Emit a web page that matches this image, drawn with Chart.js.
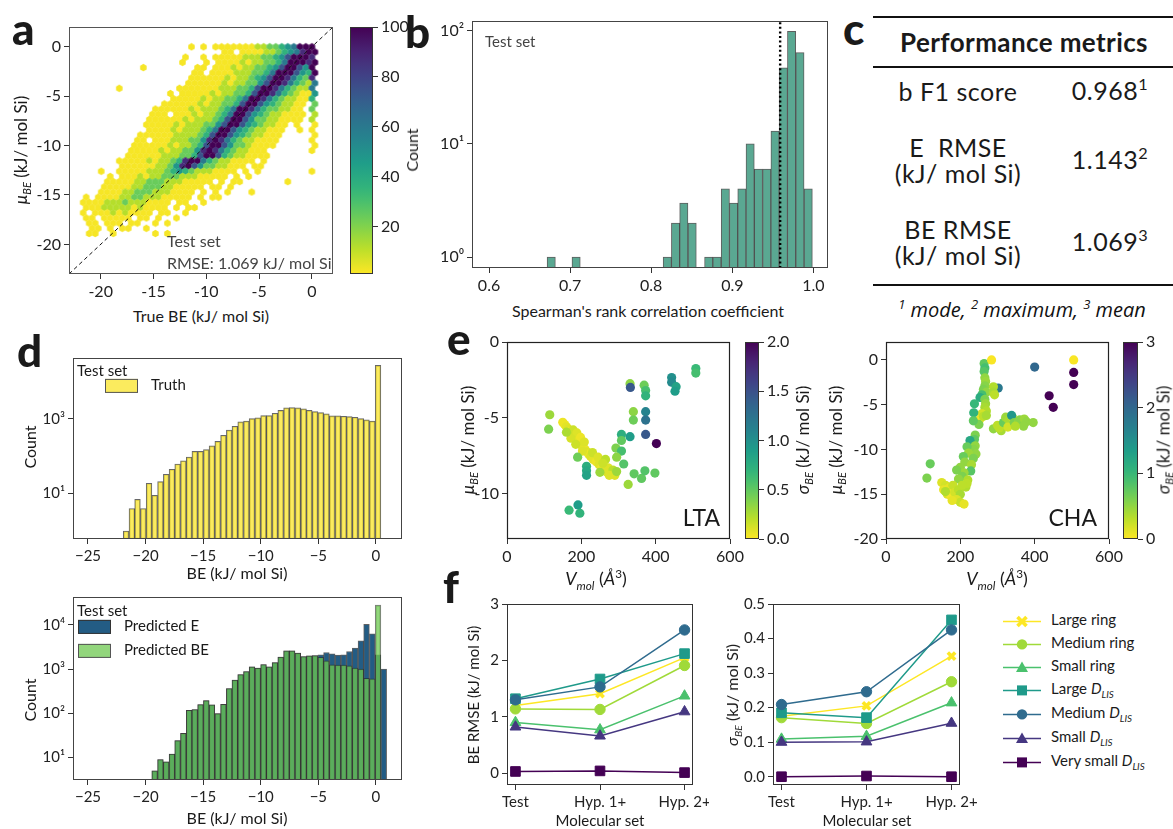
<!DOCTYPE html>
<html>
<head>
<meta charset="utf-8">
<title>BE model performance</title>
<script src="https://cdn.jsdelivr.net/npm/chart.js@4.4.1/dist/chart.umd.min.js"></script>
<style>
  html, body { margin: 0; padding: 0; background: #fff; }
  body { position: relative; width: 1173px; height: 829px; overflow: hidden;
         font-family: Lato, "Noto Sans", sans-serif; color: #1a1a1a; }
  canvas { position: absolute; }
  .lbl { position: absolute; white-space: nowrap; line-height: 1; }
  .rule { position: absolute; height: 1.5px; background: #111; }
  sub, sup { font-size: 65%; line-height: 0; }
</style>
</head>
<body>
<script>
// ---------- a: hexbin of predicted mean vs true BE ----------
// one row per hex row from y = 0 downwards, [first column, levels], '.' = empty cell
const hexRows = [
  [19, '1.1.11111112233456999'],
  [24, '11.1111223456899'],
  [18, '1..1.11111222334579998'],
  [17, '1...1.11112122334699989'],
  [11, '1........11.11121223345799759'],
  [19, '11.111122233469997549'],
  [19, '111111212234579986438'],
  [18, '1111112122335799864326'],
  [7,  '1.........11111112223347998643226'],
  [15, '1.11111212233479986432115'],
  [16, '111112122334699864322114'],
  [14, '111111212233479975432211.3'],
  [13, '1111112122234699864332211.3'],
  [12, '111.1112122346997543221111.2'],
  [12, '11111121222347997533221111.2'],
  [11, '111112122233579975432211.1..1'],
  [12, '11112122234699754322111..1.1'],
  [10, '111111222234799754322111.....1'],
  [10, '11.111222335898643221111.....1'],
  [9,  '111111212234799753321111......1'],
  [9,  '11111212233589864322111.......1'],
  [8,  '111111222334799743221111'],
  [7,  '11111212234899643221111.1'],
  [7,  '111111223589753322111.11'],
  [4,  '1..11111222345432221111.1.1........1'],
  [5,  '1.111212233322211111.1.1'],
  [5,  '111112233322211111.1.11.......1'],
  [4,  '11111223332211111.11.1'],
  [4,  '1111223332221111.1.1.1...1'],
  [1,  '1.1111223322211111.1.11'],
  [1,  '111122232221111.11..1'],
  [1,  '11122222121111.1.11'],
  [1,  '1.1112121111.11..1'],
  [1,  '11.11111.11.1..1'],
  [2,  '11.111.11..1.1'],
  [2,  '11.1.11..1'],
  [2,  '11..1......1.1']
];
const hexLevelCounts = [0, 2, 12, 24, 36, 48, 60, 74, 88, 100];
const hexX0 = -22.23, hexDx = 0.57, hexDy = 0.525;   // hex lattice in data units
const beTicks = [-20, -15, -10, -5, 0];
const countTicks = [20, 40, 60, 80, 100];

// ---------- b: Spearman rank correlation histogram ----------
const rhoBins = [0.6767, 0.7074, 0.8198, 0.8300, 0.8402, 0.8505, 0.8709, 0.8811, 0.8914, 0.9016,
                 0.9118, 0.9220, 0.9322, 0.9425, 0.9527, 0.9629, 0.9731, 0.9834, 0.9936];
const rhoCounts = [1, 1, 1, 2, 3, 2, 1, 1, 4, 3, 4, 10, 6, 6, 13, 47, 99, 64, 4];
const rhoMode = 0.959;
const rhoTicks = [0.6, 0.7, 0.8, 0.9, 1.0];

// ---------- d: BE histograms ----------
const beBins = [-21.69, -21.19, -20.70, -20.20, -19.70, -19.21, -18.71, -18.21, -17.71, -17.22,
                -16.72, -16.22, -15.73, -15.23, -14.73, -14.24, -13.74, -13.24, -12.74, -12.25,
                -11.75, -11.25, -10.76, -10.26, -9.76, -9.27, -8.77, -8.27, -7.77, -7.28,
                -6.78, -6.28, -5.79, -5.29, -4.79, -4.30, -3.80, -3.30, -2.80, -2.31,
                -1.81, -1.31, -0.82, -0.32, 0.18, 0.68];
const truthCounts = [1, 4, 7, 4, 19, 9, 21, 33, 45, 62, 76, 95, 135, 135, 150, 190, 250, 365, 500, 635,
                     830, 870, 1020, 1065, 1230, 1230, 1420, 1700, 1970, 2000, 1970, 1850, 1700, 1570, 1480,
                     1360, 1200, 1200, 1180, 1150, 1110, 1020, 940, 870, 27000];
const predECounts = [null, null, null, null, null, 5, 9, 8, 12, 24, 35, 117, 122, 158, 193,
                     155, 98, 160, 364, 560, 755, 880, 1120, 1050, 1270, 1130, 1400, 1860, 2580, 2580,
                     2290, 1920, 2000, 2020, 2100, 2370, 2220, 2060, 2100, 2500, 2970, 4350, 10300, 6250,
                     2100, 1000];
const predBeCounts = [null, null, null, null, null, 5, 9, 8, 12, 24, 35, 117, 122, 158, 193,
                      155, 98, 160, 364, 560, 755, 880, 1120, 1050, 1270, 1130, 1400, 1860, 2580, 2580,
                      2290, 1920, 2000, 2020, 1830, 1535, 1250, 1230, 1230, 1180, 1050, 1000, 620, 600,
                      28000, null];
const histTicks = [-25, -20, -15, -10, -5, 0];

// ---------- e: mean vs molecular volume, coloured by sigma ----------
const ltaV = [115, 112, 150, 155, 160, 165, 170, 175, 180, 185, 190, 195, 200, 205, 210, 215, 220, 225, 232, 240,
              248, 255, 262, 270, 280, 290, 178, 188, 198, 208, 172, 185, 203, 230, 245, 265, 272, 285, 160, 258,
              275, 250, 190, 214, 214, 214, 167, 191, 196, 331, 332, 369, 373, 373, 340, 340, 373, 373, 373, 402,
              443, 443, 455, 452, 508, 508, 308, 331, 308, 293, 308, 295, 314, 342, 362, 371, 398, 326, 295];
const ltaMu = [-4.8, -5.75, -5.3, -5.45, -5.6, -5.75, -5.9, -6.05, -6.2, -6.3, -6.45, -6.6, -6.8, -6.95, -7.1, -7.25,
               -7.4, -7.55, -7.75, -7.9, -8.1, -8.3, -8.5, -8.6, -8.75, -8.8, -5.8, -6.0, -6.3, -6.6, -6.35, -6.75,
               -7.2, -7.3, -7.6, -7.75, -8.3, -8.45, -5.95, -8.0, -8.8, -8.6, -7.6, -8.2, -8.5, -8.8, -11.1, -10.75,
               -11.3, -2.75, -3.0, -2.85, -3.2, -3.55, -4.6, -5.15, -4.6, -5.15, -6.1, -6.7, -2.35, -2.65, -2.95,
               -3.25, -1.75, -2.05, -6.1, -6.25, -6.5, -7.0, -7.2, -7.6, -8.05, -8.7, -9.0, -8.5, -8.65, -9.4, -8.55];
const ltaSigma = [0.3, 0.4, 0.05, 0.05, 0.08, 0.1, 0.05, 0.05, 0.1, 0.05, 0.05, 0.1, 0.05, 0.08, 0.05, 0.1, 0.05,
                  0.1, 0.08, 0.05, 0.1, 0.05, 0.08, 0.1, 0.05, 0.1, 0.15, 0.1, 0.05, 0.1, 0.12, 0.15, 0.1, 0.15,
                  0.1, 0.2, 0.1, 0.2, 0.25, 0.15, 0.1, 0.3, 0.45, 0.75, 0.8, 0.85, 0.65, 0.9, 0.7, 0.35, 1.45,
                  0.45, 0.6, 0.7, 0.35, 0.45, 1.1, 1.25, 1.45, 2.0, 1.0, 1.05, 0.85, 0.9, 0.65, 0.6, 0.75, 0.9,
                  0.5, 0.4, 0.6, 0.35, 0.55, 0.5, 0.5, 0.55, 0.5, 0.3, 0.3];
const chaV = [264, 266, 264, 266, 268, 266, 262, 270, 258, 253, 266, 268, 266, 270, 258, 253, 250, 238, 236, 235,
              262, 270, 284, 302, 289, 289, 292, 289, 300, 310, 305, 316, 322, 330, 328, 340, 338, 345, 356, 360,
              372, 378, 370, 396, 348, 400, 505, 505, 505, 439, 450, 240, 238, 226, 240, 236, 242, 218, 222, 235,
              208, 212, 230, 228, 200, 210, 190, 205, 220, 195, 119, 110, 150, 160, 170, 180, 155, 165, 175, 185,
              195, 200, 190, 200, 210, 178, 215, 218, 205, 160];
const chaMu = [-0.4, -0.9, -1.3, -2.0, -2.4, -2.9, -3.3, -3.6, -3.9, -4.2, -4.4, -4.9, -5.3, -5.7, -6.0, -6.6, -7.2,
               -4.9, -5.9, -6.8, -6.3, -6.2, 0, -3.15, -3.0, -3.6, -3.9, -7.7, -7.3, -7.9, -7.6, -7.0, -6.4, -6.7,
               -7.5, -6.4, -6.2, -7.0, -7.0, -6.7, -6.6, -6.9, -7.4, -7.0, -7.4, -0.8, 0, -1.4, -2.75, -4.0, -5.3,
               -8.4, -8.9, -9.0, -9.6, -10.0, -10.5, -9.7, -10.4, -11.0, -10.8, -11.4, -11.7, -12.4, -12.0, -12.6,
               -12.3, -13.0, -13.4, -13.3, -11.6, -13.2, -13.7, -14.0, -14.3, -14.0, -14.5, -15.0, -15.2, -14.8,
               -14.5, -15.0, -15.6, -15.9, -16.1, -15.7, -14.2, -13.8, -14.0, -14.7];
const chaSigma = [0.75, 0.9, 0.8, 0.5, 0.45, 0.55, 0.6, 0.5, 0.9, 1.15, 0.6, 0.45, 0.4, 0.35, 0.2, 0.05, 0.6, 1.0,
                  1.05, 0.75, 0.3, 0.4, 0.02, 1.8, 0.35, 0.4, 0.3, 0.5, 0.3, 0.4, 0.3, 0.7, 0.45, 0.4, 0.2, 0.3,
                  1.4, 0.6, 0.5, 0.55, 0.45, 0.5, 0.5, 0.5, 0.35, 2.0, 0.02, 3.0, 3.0, 3.0, 3.0, 0.6, 0.75, 1.2,
                  0.5, 0.55, 0.5, 0.7, 0.45, 0.6, 0.7, 0.5, 0.4, 0.8, 0.5, 0.45, 0.6, 0.6, 0.35, 0.5, 0.7, 0.6,
                  0.15, 0.2, 0.1, 0.25, 0.1, 0.15, 0.05, 0.2, 0.3, 0.4, 0.15, 0.25, 0.1, 0.1, 0.35, 0.3, 0.3, 0.35];

// ---------- f: errors per molecular set ----------
const setNames = ['Test', 'Hyp. 1+', 'Hyp. 2+'];
const groupNames = ['Large ring', 'Medium ring', 'Small ring', 'Large <i>D</i><sub><i>LIS</i></sub>',
                    'Medium <i>D</i><sub><i>LIS</i></sub>', 'Small <i>D</i><sub><i>LIS</i></sub>',
                    'Very small <i>D</i><sub><i>LIS</i></sub>'];
const rmseByGroup = [[1.20, 1.41, 2.05], [1.14, 1.13, 1.91], [0.90, 0.77, 1.37], [1.32, 1.67, 2.12],
                     [1.30, 1.53, 2.54], [0.82, 0.66, 1.09], [0.03, 0.04, 0.01]];
const sigmaByGroup = [[0.175, 0.205, 0.349], [0.171, 0.154, 0.275], [0.109, 0.117, 0.214], [0.185, 0.171, 0.454],
                      [0.209, 0.246, 0.425], [0.100, 0.101, 0.155], [0.0, 0.002, 0.0]];
const groupColors = ['#fde725', '#a0da39', '#4ac16d', '#1f9a8a', '#2f6b8e', '#453781', '#440154'];
const groupMarkers = ['x', 'circle', 'triangle', 'rect', 'circle', 'triangle', 'rect'];

// ---------- helpers ----------
const VIR = ['#440154', '#482878', '#3e4989', '#31688e', '#26828e', '#1f9e89', '#35b779', '#6ece58', '#b5de2b', '#fde725']
  .map(h => { const n = parseInt(h.slice(1), 16); return [n >> 16, (n >> 8) & 255, n & 255]; });
function viridisR(t) {   // 0 -> yellow, 1 -> dark purple
  t = Math.min(1, Math.max(0, t));
  const p = (1 - t) * (VIR.length - 1);
  const i = Math.min(VIR.length - 2, Math.floor(p)), f = p - i;
  const c = VIR[i].map((v, k) => Math.round(v + (VIR[i + 1][k] - v) * f));
  return `rgb(${c[0]},${c[1]},${c[2]})`;
}

function label(html, x, y, css, anchor) {
  const d = document.createElement('div');
  d.className = 'lbl';
  d.innerHTML = html;
  d.style.cssText += css || '';
  d.style.left = x + 'px';
  d.style.top = y + 'px';
  const tr = { c: 'translate(-50%,-50%)', l: 'translate(0,-50%)', r: 'translate(-100%,-50%)',
               v: 'translate(-50%,-50%) rotate(-90deg)' };
  d.style.transform = tr[anchor || 'c'];
  document.body.appendChild(d);
  return d;
}

Chart.defaults.font.family = 'Lato, "Noto Sans", sans-serif';
Chart.defaults.color = '#222';

Chart.register({
  id: 'frame',
  afterDatasetsDraw(chart, args, o) {
    if (!o || !o.show) return;
    const a = chart.chartArea, ctx = chart.ctx;
    ctx.save();
    ctx.strokeStyle = o.color;
    ctx.lineWidth = o.width;
    ctx.strokeRect(Math.round(a.left) + 0.5, Math.round(a.top) + 0.5,
                   Math.round(a.right - a.left) - 1, Math.round(a.bottom - a.top) - 1);
    ctx.restore();
  }
}, {
  id: 'cbar',
  beforeDatasetsDraw(chart, args, o) {
    if (!o || !o.show) return;
    const a = chart.chartArea, ctx = chart.ctx;
    const g = ctx.createLinearGradient(0, a.bottom, 0, a.top);
    for (let k = 0; k <= 20; k++) g.addColorStop(k / 20, viridisR(k / 20));
    ctx.fillStyle = g;
    ctx.fillRect(a.left, a.top, a.right - a.left, a.bottom - a.top);
  }
});

function axis(type, min, max, ticks, fmt, size, extra) {
  return Object.assign({
    type, min, max, bounds: 'data',
    afterBuildTicks: s => { s.ticks = ticks.map(v => ({ value: v })); },
    ticks: { callback: fmt, autoSkip: false, maxRotation: 0, minRotation: 0, padding: 3,
             color: '#222', font: { size } },
    grid: { display: true, drawOnChartArea: false, drawTicks: true, tickLength: 5,
            tickColor: '#333', tickWidth: 1, offset: false },
    border: { display: false }
  }, extra || {});
}

// area = plot box [left, top, right, bottom] on the page, m = room for ticks [left, top, right, bottom]
function makeChart(area, m, config) {
  const [l, t, r, b] = area;
  const w = r - l + m[0] + m[2], h = b - t + m[1] + m[3];
  const cv = document.createElement('canvas');
  cv.width = w; cv.height = h;
  Object.assign(cv.style, { left: (l - m[0]) + 'px', top: (t - m[1]) + 'px', width: w + 'px', height: h + 'px' });
  document.body.appendChild(cv);
  const sc = config.options.scales;
  const yRight = sc.y.position === 'right';
  const xHidden = sc.x.display === false;
  sc.x.afterFit = s => { s.height = xHidden ? 0 : m[3]; s.paddingLeft = 0; s.paddingRight = 0; };
  sc.y.afterFit = s => { s.width = yRight ? m[2] : m[0]; s.paddingTop = 0; s.paddingBottom = 0; };
  config.options.layout = { padding: { left: yRight ? m[0] : 0, right: yRight ? 0 : m[2], top: m[1],
                                       bottom: xHidden ? m[3] : 0 } };
  Object.assign(config.options, { responsive: false, animation: false, devicePixelRatio: 1, events: [] });
  config.options.plugins = Object.assign({ legend: { display: false }, tooltip: { enabled: false } },
                                         config.options.plugins || {});
  return new Chart(cv, config);
}

const SUP = { '0': '⁰', '1': '¹', '2': '²', '3': '³', '4': '⁴' };
const pow10 = v => '10' + SUP[Math.round(Math.log10(v))];
const minus = v => (v < 0 ? '−' + Math.abs(v) : String(v));
const colorbar = (area, m, max, ticks, fmt) => makeChart(area, m, {
  type: 'scatter', data: { datasets: [] },
  options: {
    scales: { x: { display: false, min: 0, max: 1 },
              y: axis('linear', max === 100 ? 1 : 0, max, ticks, fmt, 16, { position: 'right' }) },
    plugins: { cbar: { show: true }, frame: { show: true, color: '#333', width: 1 } }
  }
});

// ---------- panel a ----------
const hexImgs = hexLevelCounts.map(n => {
  const c = document.createElement('canvas');
  c.width = 9; c.height = 9;
  const g = c.getContext('2d');
  g.fillStyle = viridisR((n - 1) / 99);
  g.beginPath();
  for (let k = 0; k < 6; k++) {
    const ang = -Math.PI / 2 + k * Math.PI / 3;
    g.lineTo(4.5 + 3.75 * Math.cos(ang), 4.5 + 3.75 * Math.sin(ang));
  }
  g.closePath();
  g.fill();
  return c;
});
const hexCells = [];
hexRows.forEach(([start, s], j) => {
  for (let k = 0; k < s.length; k++) {
    if (s[k] === '.') continue;
    const i = start + k, lvl = +s[k];
    hexCells.push({ x: hexX0 + i * hexDx + (j % 2 ? hexDx / 2 : 0), y: -j * hexDy, lvl });
  }
});

makeChart([69, 27, 333, 274], [52, 10, 10, 30], {
  type: 'scatter',
  data: { datasets: [
    { data: [{ x: -23, y: -23 }, { x: 2, y: 2 }], showLine: true, borderColor: '#111', borderWidth: 1,
      borderDash: [4, 3], pointRadius: 0 },
    { data: hexCells, pointRadius: 3.5, pointStyle: c => (c.raw ? hexImgs[c.raw.lvl] : 'circle') }
  ] },
  options: {
    scales: { x: axis('linear', -23, 2, beTicks, v => String(v), 16),
              y: axis('linear', -23, 2, beTicks, v => String(v), 16) },
    plugins: { frame: { show: true, color: '#555', width: 1 } }
  }
});
colorbar([350, 27, 373, 274], [0, 10, 36, 10], 100, countTicks, v => String(v));

label('<i>μ</i><sub><i>BE</i></sub> (kJ/ mol Si)', 20, 150, 'font-size:17px;', 'v');
label('True BE (kJ/ mol Si)', 201, 316, 'font-size:16px;');
label('Test set', 167, 241, 'font-size:16px;color:#444;', 'l');
label('RMSE: 1.069 kJ/ mol Si', 167, 263, 'font-size:16px;color:#444;', 'l');

// ---------- panel b ----------
makeChart([472, 21, 828, 268], [46, 10, 12, 32], {
  type: 'bar',
  data: { datasets: [
    { type: 'line', data: [{ x: rhoMode, y: 0.8 }, { x: rhoMode, y: 122 }], borderColor: '#000',
      borderWidth: 2.4, borderDash: [2, 2.6], pointRadius: 0 },
    { type: 'bar', data: rhoBins.map((x, i) => ({ x, y: rhoCounts[i] })), backgroundColor: '#5aa892',
      borderColor: 'rgba(40,40,40,0.75)', borderWidth: 1, borderSkipped: false,
      barPercentage: 1, categoryPercentage: 1, grouped: false }
  ] },
  options: {
    scales: { x: axis('linear', 0.579, 1.018, rhoTicks, v => v.toFixed(1), 16, { offset: false }),
              y: axis('logarithmic', 0.8, 122, [1, 10, 100], pow10, 16) },
    plugins: { frame: { show: true, color: '#444', width: 1 } }
  }
});
label('Count', 412, 150, 'font-size:16px;', 'v');
label('Spearman\'s rank correlation coefficient', 648, 311, 'font-size:16px;');
label('Test set', 485, 41, 'font-size:15px;color:#444;', 'l');

// ---------- panel c (table) ----------
[[873, 16], [873, 66], [873, 284]].forEach(([x, y]) => {
  const d = document.createElement('div');
  d.className = 'rule';
  Object.assign(d.style, { left: x + 'px', top: y + 'px', width: (1173 - x) + 'px' });
  document.body.appendChild(d);
});
const cellCss = 'font-size:25px;letter-spacing:0.5px;';
label('Performance metrics', 1024, 42, 'font-size:26px;font-weight:700;letter-spacing:0.4px;');
label('b F1 score', 958, 91, cellCss);
label('0.968<sup>1</sup>', 1110, 90, cellCss);
label('E&nbsp; RMSE', 958, 147, cellCss);
label('(kJ/ mol Si)', 958, 173, cellCss);
label('1.143<sup>2</sup>', 1110, 159, cellCss);
label('BE RMSE', 958, 229, cellCss);
label('(kJ/ mol Si)', 958, 255, cellCss);
label('1.069<sup>3</sup>', 1110, 241, cellCss);
label('<sup>1</sup> mode, <sup>2</sup> maximum, <sup>3</sup> mean', 1022, 310,
      'font-family:"Open Sans",Lato,sans-serif;font-size:20px;font-style:italic;font-weight:400;color:#111;');

// ---------- panel d ----------
const barStyle = { borderWidth: 1, borderSkipped: false, barPercentage: 1, categoryPercentage: 1, grouped: false };
makeChart([73, 358, 402, 539], [42, 8, 12, 30], {
  type: 'bar',
  data: { datasets: [Object.assign({
    data: truthCounts.map((y, i) => ({ x: beBins[i], y })),
    backgroundColor: 'rgba(250,228,40,0.75)', borderColor: 'rgba(40,40,40,0.7)' }, barStyle)] },
  options: {
    scales: { x: axis('linear', -26.3, 2.26, histTicks, minus, 15, { offset: false }),
              y: axis('logarithmic', 0.61, 42700, [10, 1000], pow10, 15) },
    plugins: { frame: { show: true, color: '#444', width: 1 } }
  }
});
makeChart([73, 597, 402, 780], [42, 8, 12, 30], {
  type: 'bar',
  data: { datasets: [
    Object.assign({ data: predBeCounts.map((y, i) => ({ x: beBins[i], y })),
      backgroundColor: 'rgba(110,200,80,0.75)', borderColor: 'rgba(40,40,40,0.6)' }, barStyle),
    Object.assign({ data: predECounts.map((y, i) => ({ x: beBins[i], y })),
      backgroundColor: 'rgb(35,92,132)', borderColor: 'rgba(30,30,30,0.7)' }, barStyle)
  ] },
  options: {
    scales: { x: axis('linear', -26.3, 2.26, histTicks, minus, 15, { offset: false }),
              y: axis('logarithmic', 3.1, 42600, [10, 100, 1000, 10000], pow10, 15) },
    plugins: { frame: { show: true, color: '#444', width: 1 } }
  }
});
label('Count', 30, 447, 'font-size:16px;', 'v');
label('BE (kJ/ mol Si)', 237, 573, 'font-size:16px;');
label('Count', 30, 700, 'font-size:16px;', 'v');
label('BE (kJ/ mol Si)', 237, 818, 'font-size:16px;');
label('Test set', 77, 370, 'font-size:15px;', 'l');
label('<span style="display:inline-block;width:31px;height:12px;background:rgba(250,228,40,0.75);border:1px solid #555;vertical-align:middle;margin-right:13px"></span>Truth',
      105, 385, 'font-size:15px;', 'l');
label('Test set', 77, 610, 'font-size:15px;', 'l');
label('<span style="display:inline-block;width:31px;height:12px;background:rgb(35,92,132);border:1px solid #333;vertical-align:middle;margin-right:13px"></span>Predicted E',
      78, 626, 'font-size:15px;', 'l');
label('<span style="display:inline-block;width:31px;height:12px;background:rgba(110,200,80,0.75);border:1px solid #555;vertical-align:middle;margin-right:13px"></span>Predicted BE',
      78, 650, 'font-size:15px;', 'l');

// ---------- panel e ----------
function sigmaScatter(area, V, mu, sig, cmax, ymin, ymax, yTicks) {
  makeChart(area, [46, 10, 16, 30], {
    type: 'scatter',
    data: { datasets: [{
      data: V.map((x, i) => ({ x, y: mu[i] })), pointRadius: 4.6, pointBorderWidth: 0,
      backgroundColor: c => (c.dataIndex == null ? '#888' : viridisR(sig[c.dataIndex] / cmax))
    }] },
    options: {
      scales: { x: axis('linear', 0, 600, [0, 200, 400, 600], v => String(v), 16),
                y: axis('linear', ymin, ymax, yTicks, v => String(v), 16) },
      plugins: { frame: { show: true, color: '#222', width: 1.2 } }
    }
  });
}
sigmaScatter([507, 342, 730, 539], ltaV, ltaMu, ltaSigma, 2, -13, 0, [0, -5, -10]);
sigmaScatter([886, 342, 1109, 539], chaV, chaMu, chaSigma, 3, -20, 2, [0, -5, -10, -15, -20]);
colorbar([745, 342, 759, 539], [0, 10, 34, 10], 2, [0, 0.5, 1, 1.5, 2], v => v.toFixed(1));
colorbar([1123, 342, 1138, 539], [0, 10, 30, 10], 3, [0, 1, 2, 3], v => String(v));

const muTitle = '<i>μ</i><sub><i>BE</i></sub> (kJ/ mol Si)';
const sigTitle = '<i>σ</i><sub><i>BE</i></sub> (kJ/ mol Si)';
const vTitle = '<i>V<sub>mol</sub></i> (<i>Å</i><sup>3</sup>)';
label(muTitle, 467, 440, 'font-size:17px;', 'v');
label(sigTitle, 802, 440, 'font-size:17px;', 'v');
label(vTitle, 596, 578, 'font-size:18px;');
label('LTA', 720, 517, 'font-size:23px;', 'r');
label(muTitle, 835, 440, 'font-size:17px;', 'v');
label(sigTitle, 1163, 440, 'font-size:17px;', 'v');
label(vTitle, 997, 578, 'font-size:18px;');
label('CHA', 1097, 517, 'font-size:23px;', 'r');

// ---------- panel f ----------
function groupDatasets(values) {
  return values.map((row, g) => {
    const st = groupMarkers[g];
    return {
      data: row.map((y, i) => ({ x: i, y })), showLine: true,
      borderColor: groupColors[g], backgroundColor: groupColors[g], borderWidth: 1.5,
      pointStyle: st === 'x' ? 'crossRot' : st,
      pointRadius: st === 'rect' ? 6.8 : st === 'triangle' ? 6.2 : 5.2,
      pointBorderWidth: st === 'x' ? 3.6 : 1, pointBorderColor: groupColors[g],
      pointBackgroundColor: groupColors[g]
    };
  }).reverse();
}
makeChart([507, 604, 693, 785], [44, 10, 16, 28], {
  type: 'scatter',
  data: { datasets: groupDatasets(rmseByGroup) },
  options: {
    scales: { x: axis('linear', -0.1, 2.1, [0, 1, 2], v => setNames[v], 15),
              y: axis('linear', -0.21, 3.0, [0, 1, 2, 3], v => String(v), 15) },
    plugins: { frame: { show: true, color: '#333', width: 1 } }
  }
});
makeChart([773, 604, 960, 785], [44, 10, 30, 28], {
  type: 'scatter',
  data: { datasets: groupDatasets(sigmaByGroup) },
  options: {
    scales: { x: axis('linear', -0.1, 2.1, [0, 1, 2], v => setNames[v], 15),
              y: axis('linear', -0.024, 0.5, [0, 0.1, 0.2, 0.3, 0.4, 0.5], v => v.toFixed(1), 15) },
    plugins: { frame: { show: true, color: '#333', width: 1 } }
  }
});
label('BE RMSE (kJ/ mol Si)', 473, 695, 'font-size:15px;', 'v');
label('Molecular set', 600, 820, 'font-size:15px;');
label(sigTitle, 732, 695, 'font-size:16px;', 'v');
label('Molecular set', 867, 820, 'font-size:15px;');

function markerSvg(g) {
  const c = groupColors[g], st = groupMarkers[g];
  let m = '';
  if (st === 'x') m = `<path d="M14.5 3.5 L23.5 12.5 M23.5 3.5 L14.5 12.5" stroke="${c}" stroke-width="3.6"/>`;
  else if (st === 'circle') m = `<circle cx="19" cy="8" r="5.2" fill="${c}"/>`;
  else if (st === 'triangle') m = `<path d="M19 2 L25 12.5 L13 12.5 Z" fill="${c}"/>`;
  else m = `<rect x="14" y="3" width="10" height="10" fill="${c}"/>`;
  return `<svg width="38" height="16" style="vertical-align:middle;margin-right:10px">` +
         `<line x1="0" y1="8" x2="38" y2="8" stroke="${c}" stroke-width="1.5"/>${m}</svg>`;
}
const legendY = [621, 644, 667, 690, 714, 738, 762];
groupNames.forEach((name, g) => label(markerSvg(g) + name, 1003, legendY[g], 'font-size:15px;', 'l'));

// ---------- panel letters ----------
[['a', 12, 28], ['b', 405, 31], ['c', 843, 28], ['d', 17, 350], ['e', 447, 338], ['f', 443, 586]]
  .forEach(([ch, x, y]) => label(ch, x, y, 'font-size:44px;font-weight:900;', 'l'));
</script>
</body>
</html>
